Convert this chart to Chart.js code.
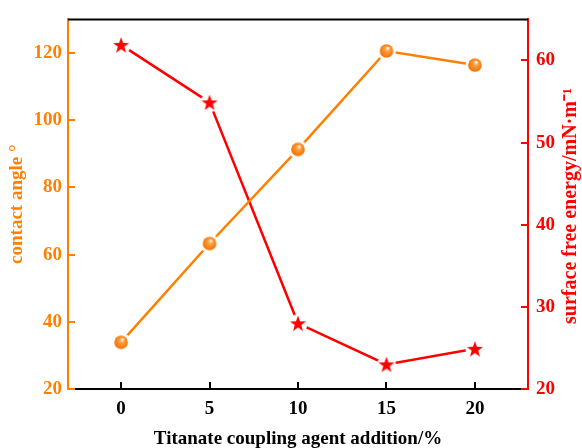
<!DOCTYPE html>
<html>
<head>
<meta charset="utf-8">
<script src="https://cdn.jsdelivr.net/npm/chart.js@4"></script>
<style>
html,body{margin:0;padding:0;background:#fff;}
#wrap{width:582px;height:448px;}
</style>
</head>
<body>
<div id="wrap"><canvas id="c" width="582" height="448"></canvas></div>
<script>
const additions = [0, 5, 10, 15, 20];
const contactAngle = [33.9, 63.3, 91.3, 120.6, 116.4];
const surfaceEnergy = [61.9, 54.9, 28.0, 23.0, 24.9];
const xTicks = [0, 5, 10, 15, 20];
const leftTicks = [20, 40, 60, 80, 100, 120];
const rightTicks = [20, 30, 40, 50, 60];
const xTitle = 'Titanate coupling agent addition/%';
const leftTitle = 'contact angle °';
const rightTitle = 'surface free energy/mN·m⁻¹';

const ORANGE = '#ff8000';
const RED = '#ff0000';
const FONT = '"Liberation Serif", "Times New Roman", serif';

function sphereMarker() {
  const c = document.createElement('canvas');
  c.width = 20; c.height = 20;
  const g = c.getContext('2d');
  g.fillStyle = '#fff';
  g.beginPath(); g.arc(10, 10, 9.5, 0, Math.PI * 2); g.fill();
  const gr = g.createRadialGradient(11.5, 7, 0.5, 10, 10, 7);
  gr.addColorStop(0, '#fff3e0');
  gr.addColorStop(0.3, '#ffa040');
  gr.addColorStop(1, '#f07000');
  g.fillStyle = gr;
  g.beginPath(); g.arc(10, 10, 6.8, 0, Math.PI * 2); g.fill();
  return c;
}
function starPath(g, cx, cy, ro, ri) {
  g.beginPath();
  for (let i = 0; i < 10; i++) {
    const r = i % 2 === 0 ? ro : ri;
    const a = -Math.PI / 2 + i * Math.PI / 5;
    const px = cx + r * Math.cos(a), py = cy + r * Math.sin(a);
    if (i === 0) g.moveTo(px, py); else g.lineTo(px, py);
  }
  g.closePath();
}
function starMarker() {
  const c = document.createElement('canvas');
  c.width = 22; c.height = 22;
  const g = c.getContext('2d');
  g.fillStyle = '#fff';
  g.beginPath(); g.arc(11, 11.5, 9.5, 0, Math.PI * 2); g.fill();
  g.fillStyle = RED;
  starPath(g, 11, 11.8, 8.5, 3.4);
  g.fill();
  return c;
}

const frame = {
  id: 'frame',
  afterDraw(chart) {
    const {ctx, chartArea: a, scales} = chart;
    ctx.save();
    ctx.strokeStyle = '#000'; ctx.lineWidth = 2;
    ctx.beginPath(); ctx.moveTo(a.left, a.top); ctx.lineTo(a.right, a.top); ctx.stroke();
    const T = 7;
    scales.x.ticks.forEach(t => {
      const px = Math.round(scales.x.getPixelForValue(t.value));
      ctx.beginPath(); ctx.moveTo(px, a.bottom); ctx.lineTo(px, a.bottom - T); ctx.stroke();
    });
    ctx.strokeStyle = ORANGE;
    scales.y.ticks.forEach(t => {
      const py = Math.round(scales.y.getPixelForValue(t.value));
      ctx.beginPath(); ctx.moveTo(a.left, py); ctx.lineTo(a.left + T, py); ctx.stroke();
    });
    ctx.strokeStyle = RED;
    scales.y2.ticks.forEach(t => {
      const py = Math.round(scales.y2.getPixelForValue(t.value));
      ctx.beginPath(); ctx.moveTo(a.right, py); ctx.lineTo(a.right - T, py); ctx.stroke();
    });
    ctx.fillStyle = RED;
    ctx.font = 'bold 20px ' + FONT;
    ctx.textAlign = 'center'; ctx.textBaseline = 'middle';
    ctx.translate(571, 206);
    ctx.rotate(-Math.PI / 2);
    ctx.fillText(rightTitle, 0, 0);
    ctx.restore();
  }
};

new Chart(document.getElementById('c'), {
  type: 'line',
  data: {
    datasets: [
      {
        label: 'contact angle',
        data: additions.map((x, i) => ({x, y: contactAngle[i]})),
        yAxisID: 'y',
        borderColor: ORANGE,
        borderWidth: 2.5,
        pointStyle: sphereMarker(),
        pointRadius: 7,
        tension: 0
      },
      {
        label: 'surface free energy',
        data: additions.map((x, i) => ({x, y: surfaceEnergy[i]})),
        yAxisID: 'y2',
        borderColor: RED,
        borderWidth: 2.5,
        pointStyle: starMarker(),
        pointRadius: 8,
        tension: 0
      }
    ]
  },
  options: {
    responsive: false,
    animation: false,
    events: [],
    layout: {padding: {top: 16, left: 0, right: 0, bottom: 0}},
    plugins: {legend: {display: false}, tooltip: {enabled: false}},
    scales: {
      x: {
        type: 'linear', min: -3, max: 23,
        afterBuildTicks: s => { s.ticks = xTicks.map(v => ({value: v})); },
        afterFit: s => { s.height = 59; },
        grid: {display: true, drawOnChartArea: false, drawTicks: false},
        border: {display: true, color: '#000', width: 2},
        ticks: {color: '#000', font: {family: FONT, size: 19, weight: 'bold'}, padding: 9},
        title: {display: true, text: xTitle, color: '#000', font: {family: FONT, size: 19, weight: 'bold', lineHeight: 1}, padding: {top: 0, bottom: -1}}
      },
      y: {
        type: 'linear', position: 'left', min: 20, max: 130,
        afterBuildTicks: s => { s.ticks = leftTicks.map(v => ({value: v})); },
        afterFit: s => { s.width = 68; },
        grid: {display: true, drawOnChartArea: false, drawTicks: false},
        border: {display: true, color: ORANGE, width: 2},
        ticks: {color: ORANGE, font: {family: FONT, size: 19, weight: 'bold'}, padding: 6},
        title: {display: true, text: leftTitle, color: ORANGE, font: {family: FONT, size: 19, weight: 'bold', lineHeight: 1}, padding: {top: 8, bottom: 0}}
      },
      y2: {
        type: 'linear', position: 'right', min: 20, max: 65,
        afterBuildTicks: s => { s.ticks = rightTicks.map(v => ({value: v})); },
        afterFit: s => { s.width = 54; },
        grid: {display: true, drawOnChartArea: false, drawTicks: false},
        border: {display: true, color: RED, width: 2},
        ticks: {color: RED, font: {family: FONT, size: 19, weight: 'bold'}, padding: 8}
      }
    }
  },
  plugins: [frame]
});
</script>
</body>
</html>
